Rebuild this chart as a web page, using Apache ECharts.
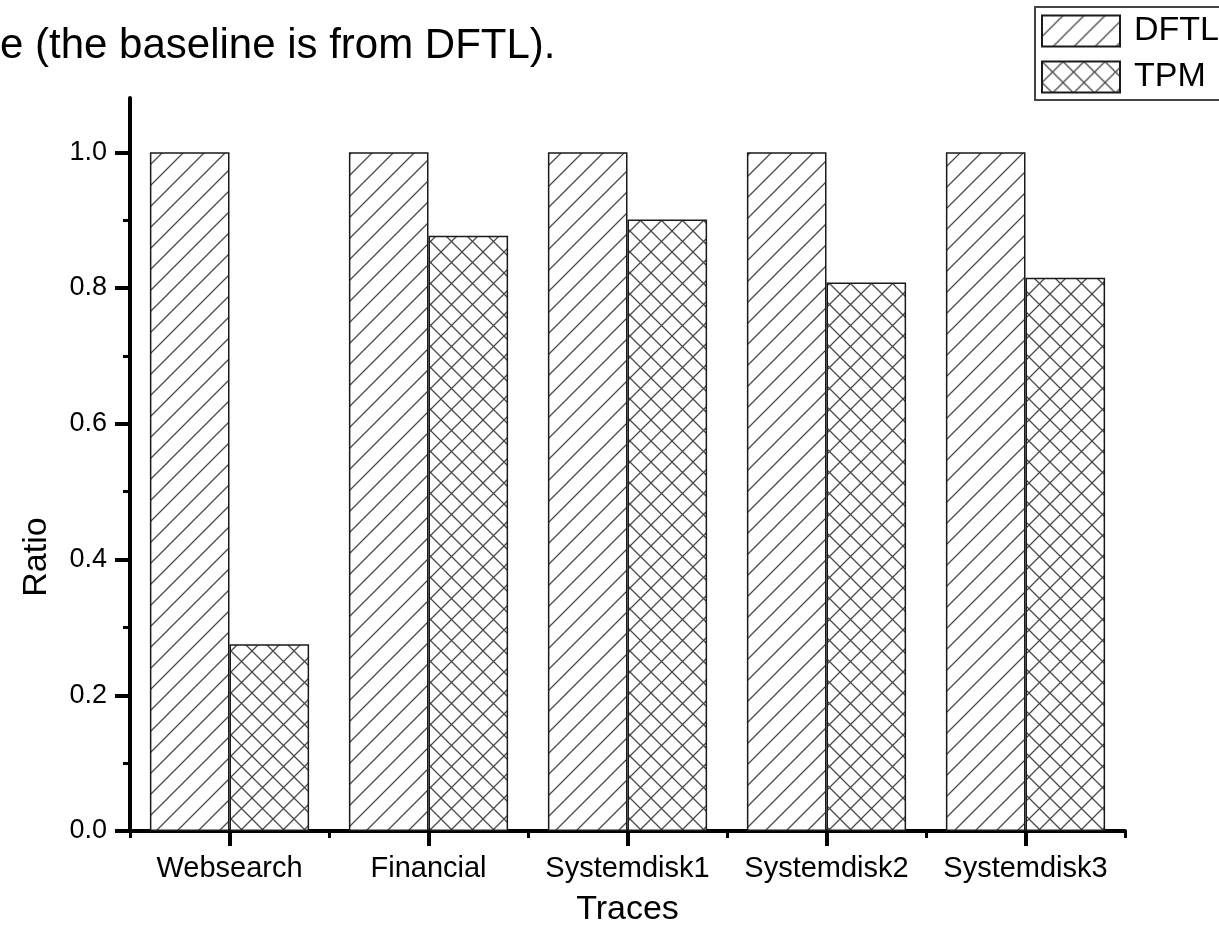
<!DOCTYPE html>
<html>
<head>
<meta charset="utf-8">
<title>Ratio by trace</title>
<script src="https://cdn.jsdelivr.net/npm/echarts@6/dist/echarts.min.js"></script>
<style>
  html, body { margin: 0; padding: 0; background: #fff; }
  #chart { width: 1219px; height: 940px; }
</style>
</head>
<body>
<div id="chart"></div>
<script>
// Traces compared, and the normalised ratio of each scheme (DFTL is the baseline)
const categories = ['Websearch', 'Financial', 'Systemdisk1', 'Systemdisk2', 'Systemdisk3'];
const dftl = [1.0, 1.0, 1.0, 1.0, 1.0];
const tpm = [0.275, 0.877, 0.901, 0.808, 0.815];
const yMajorTicks = [0, 0.2, 0.4, 0.6, 0.8, 1.0];
const yMinorTicks = [0.1, 0.3, 0.5, 0.7, 0.9];

const FONT = '"Liberation Sans", Arial, Helvetica, sans-serif';

// Hatch fills drawn on small repeating canvases
function hatchTile(cross) {
  const s = 21;
  const c = document.createElement('canvas');
  c.width = s; c.height = s;
  const g = c.getContext('2d');
  g.fillStyle = '#fff';
  g.fillRect(0, 0, s, s);
  g.strokeStyle = '#4a4a4a';
  g.lineWidth = 1.3;
  g.beginPath();
  // "/" strokes
  g.moveTo(0, s); g.lineTo(s, 0);
  g.moveTo(-2, 2); g.lineTo(2, -2);
  g.moveTo(s - 2, s + 2); g.lineTo(s + 2, s - 2);
  if (cross) {
    // "\" strokes
    g.moveTo(0, 0); g.lineTo(s, s);
    g.moveTo(s - 2, -2); g.lineTo(s + 2, 2);
    g.moveTo(-2, s - 2); g.lineTo(2, s + 2);
  }
  g.stroke();
  return c;
}

const chart = echarts.init(document.getElementById('chart'), null, { renderer: 'canvas' });

const barBorder = { borderColor: '#1a1a1a', borderWidth: 1.5 };

chart.setOption({
  backgroundColor: '#fff',
  animation: false,
  textStyle: { fontFamily: FONT, color: '#000' },
  grid: { left: 130, right: 94, top: 98, bottom: 109, containLabel: false },
  legend: {
    data: ['DFTL', 'TPM'],
    orient: 'vertical',
    left: 1035,
    top: 7,
    padding: [7, 60, 6, 6],
    itemWidth: 78,
    itemHeight: 31,
    itemGap: 12,
    borderColor: '#444',
    borderWidth: 2,
    icon: 'rect',
    textStyle: { fontSize: 34, lineHeight: 31, fontFamily: FONT, color: '#000', padding: [0, 0, 0, 9] }
  },
  graphic: [
    {
      type: 'text',
      x: 0,
      y: 46,
      style: {
        text: 'e (the baseline is from DFTL).',
        fontSize: 42,
        fontFamily: FONT,
        fill: '#000',
        verticalAlign: 'middle',
        align: 'left'
      }
    },
    {
      type: 'text',
      x: 37,
      y: 557,
      rotation: Math.PI / 2,
      style: {
        text: 'Ratio',
        fontSize: 34,
        fontFamily: FONT,
        fill: '#000',
        align: 'center',
        verticalAlign: 'middle'
      }
    }
  ],
  xAxis: [
    {
      type: 'category',
      data: categories,
      boundaryGap: true,
      name: 'Traces',
      nameLocation: 'middle',
      nameGap: 62,
      nameTextStyle: { fontSize: 34, fontFamily: FONT, color: '#000' },
      axisLine: { show: true, lineStyle: { color: '#000', width: 4 } },
      axisTick: { show: true, alignWithLabel: true, length: 15, lineStyle: { color: '#000', width: 4 } },
      axisLabel: { interval: 0, fontSize: 29, fontFamily: FONT, color: '#000', margin: 23 },
      splitLine: { show: false }
    },
    {
      // short ticks on the boundaries between trace groups
      type: 'category',
      data: categories,
      boundaryGap: true,
      position: 'bottom',
      axisLine: { show: false },
      axisTick: { show: true, interval: 0, length: 7, lineStyle: { color: '#000', width: 3 } },
      axisLabel: { show: false },
      splitLine: { show: false }
    }
  ],
  yAxis: [
    {
      type: 'value',
      min: 0,
      max: 1.08,
      interval: 0.2,
      axisLine: { show: true, lineStyle: { color: '#000', width: 4 } },
      axisTick: { show: true, customValues: yMajorTicks, length: 15, lineStyle: { color: '#000', width: 4 } },
      axisLabel: {
        customValues: yMajorTicks,
        fontSize: 27,
        fontFamily: FONT,
        color: '#000',
        margin: 23,
        formatter: v => v.toFixed(1)
      },
      splitLine: { show: false }
    },
    {
      // minor ticks halfway between labelled values
      type: 'value',
      min: 0,
      max: 1.08,
      position: 'left',
      offset: 0,
      axisLine: { show: false },
      axisTick: { show: true, customValues: yMinorTicks, length: 7, lineStyle: { color: '#000', width: 3 } },
      axisLabel: { show: false },
      splitLine: { show: false }
    }
  ],
  series: [
    {
      name: 'DFTL',
      type: 'bar',
      data: dftl,
      barGap: '0%',
      barCategoryGap: '20%',
      itemStyle: Object.assign({ color: { image: hatchTile(false), repeat: 'repeat' } }, barBorder)
    },
    {
      name: 'TPM',
      type: 'bar',
      data: tpm,
      barGap: '0%',
      barCategoryGap: '20%',
      itemStyle: Object.assign({ color: { image: hatchTile(true), repeat: 'repeat' } }, barBorder)
    }
  ]
});
</script>
</body>
</html>
